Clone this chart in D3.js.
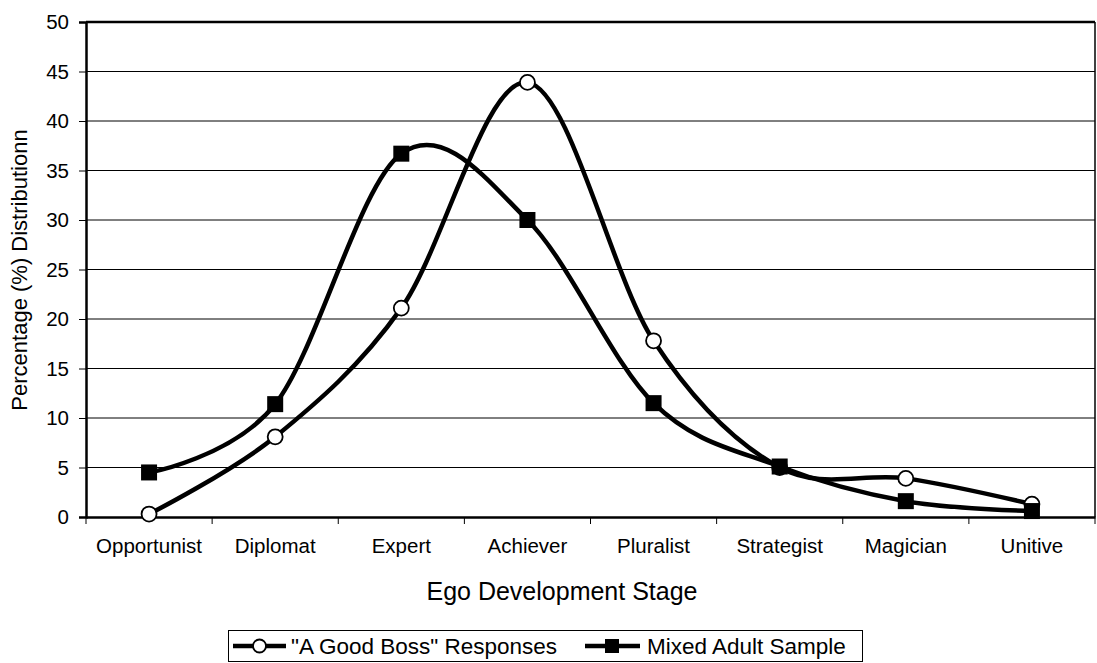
<!DOCTYPE html>
<html>
<head>
<meta charset="utf-8">
<script src="https://cdn.jsdelivr.net/npm/d3@7"></script>
<style>
  html, body { margin: 0; padding: 0; background: #fff; }
  svg { display: block; font-family: "Liberation Sans", Arial, sans-serif; }
</style>
</head>
<body>
<svg id="chart" width="1097" height="663"></svg>
<script>
const categories = ["Opportunist", "Diplomat", "Expert", "Achiever", "Pluralist", "Strategist", "Magician", "Unitive"];
const goodBoss = [0.3, 8.1, 21.1, 43.9, 17.8, 5.0, 3.9, 1.3];
const mixedAdult = [4.5, 11.4, 36.7, 30.0, 11.5, 5.1, 1.6, 0.6];
const yTicks = [0, 5, 10, 15, 20, 25, 30, 35, 40, 45, 50];
const seriesNames = ["\"A Good Boss\" Responses", "Mixed Adult Sample"];

const svg = d3.select("#chart");
const pLeft = 86, pRight = 1095, pTop = 22, pBottom = 517;

const x = d3.scaleBand().domain(categories).range([pLeft, pRight]).padding(0);
const y = d3.scaleLinear().domain([0, 50]).range([pBottom, pTop]);
const cx = c => x(c) + x.bandwidth() / 2;

// gridlines
svg.append("g").selectAll("line").data(yTicks.filter(v => v > 0)).join("line")
  .attr("x1", pLeft).attr("x2", pRight)
  .attr("y1", d => y(d)).attr("y2", d => y(d))
  .attr("stroke", "#000").attr("stroke-width", d => d === 50 ? 2.5 : 1);

// right border
svg.append("line").attr("x1", pRight).attr("x2", pRight).attr("y1", pTop).attr("y2", pBottom)
  .attr("stroke", "#000").attr("stroke-width", 1.5);

// Y axis
const yAxis = svg.append("g").attr("transform", `translate(${pLeft},0)`)
  .call(d3.axisLeft(y).tickValues(yTicks).tickSize(7).tickPadding(10));
yAxis.select(".domain").attr("stroke-width", 2.5);
yAxis.selectAll(".tick line").attr("stroke-width", 1);
yAxis.selectAll("text").attr("font-size", 20.5).attr("fill", "#000")
  .attr("font-family", "Liberation Sans, Arial, sans-serif");

// X axis with ticks between categories
const xAxis = svg.append("g").attr("transform", `translate(0,${pBottom})`)
  .call(d3.axisBottom(x).tickSize(0).tickPadding(21));
xAxis.select(".domain").attr("stroke-width", 2.5);
xAxis.selectAll("text").attr("font-size", 20.5).attr("fill", "#000")
  .attr("font-family", "Liberation Sans, Arial, sans-serif");
const boundaries = categories.map(c => x(c)).concat([pRight]);
svg.append("g").selectAll("line").data(boundaries).join("line")
  .attr("x1", d => d).attr("x2", d => d)
  .attr("y1", pBottom).attr("y2", pBottom + 7)
  .attr("stroke", "#000").attr("stroke-width", 1);

// titles
svg.append("text").attr("x", 562).attr("y", 600).attr("text-anchor", "middle")
  .attr("font-size", 25).text("Ego Development Stage");
svg.append("text").attr("transform", "translate(27,270) rotate(-90)")
  .attr("text-anchor", "middle").attr("font-size", 22).text("Percentage (%) Distributionn");

// lines
const line = d3.line().x((d, i) => cx(categories[i])).y(d => y(d))
  .curve(d3.curveCardinal.tension(0));
const lineG = svg.append("g");
[goodBoss, mixedAdult].forEach(s => {
  lineG.append("path").datum(s).attr("d", line)
    .attr("fill", "none").attr("stroke", "#000").attr("stroke-width", 4.5);
});

// markers (circles below squares)
svg.append("g").selectAll("circle").data(goodBoss).join("circle")
  .attr("cx", (d, i) => cx(categories[i])).attr("cy", d => y(d))
  .attr("r", 7.5).attr("fill", "#fff").attr("stroke", "#000").attr("stroke-width", 1.8);
svg.append("g").selectAll("rect").data(mixedAdult).join("rect")
  .attr("x", (d, i) => cx(categories[i]) - 8).attr("y", d => y(d) - 8)
  .attr("width", 16).attr("height", 16).attr("fill", "#000");

// legend
const lg = svg.append("g");
lg.append("rect").attr("x", 228.5).attr("y", 630.5).attr("width", 634).attr("height", 31)
  .attr("fill", "#fff").attr("stroke", "#000").attr("stroke-width", 1);
const ly = 646;
lg.append("line").attr("x1", 233).attr("x2", 286).attr("y1", ly).attr("y2", ly)
  .attr("stroke", "#000").attr("stroke-width", 4.5);
lg.append("circle").attr("cx", 259.5).attr("cy", ly).attr("r", 6.5)
  .attr("fill", "#fff").attr("stroke", "#000").attr("stroke-width", 1.8);
lg.append("text").attr("x", 291).attr("y", ly + 8).attr("font-size", 22.5).text(seriesNames[0]);
lg.append("line").attr("x1", 585).attr("x2", 640).attr("y1", ly).attr("y2", ly)
  .attr("stroke", "#000").attr("stroke-width", 4.5);
lg.append("rect").attr("x", 605).attr("y", ly - 7).attr("width", 14).attr("height", 14).attr("fill", "#000");
lg.append("text").attr("x", 647).attr("y", ly + 8).attr("font-size", 22.5).text(seriesNames[1]);
</script>
</body>
</html>
